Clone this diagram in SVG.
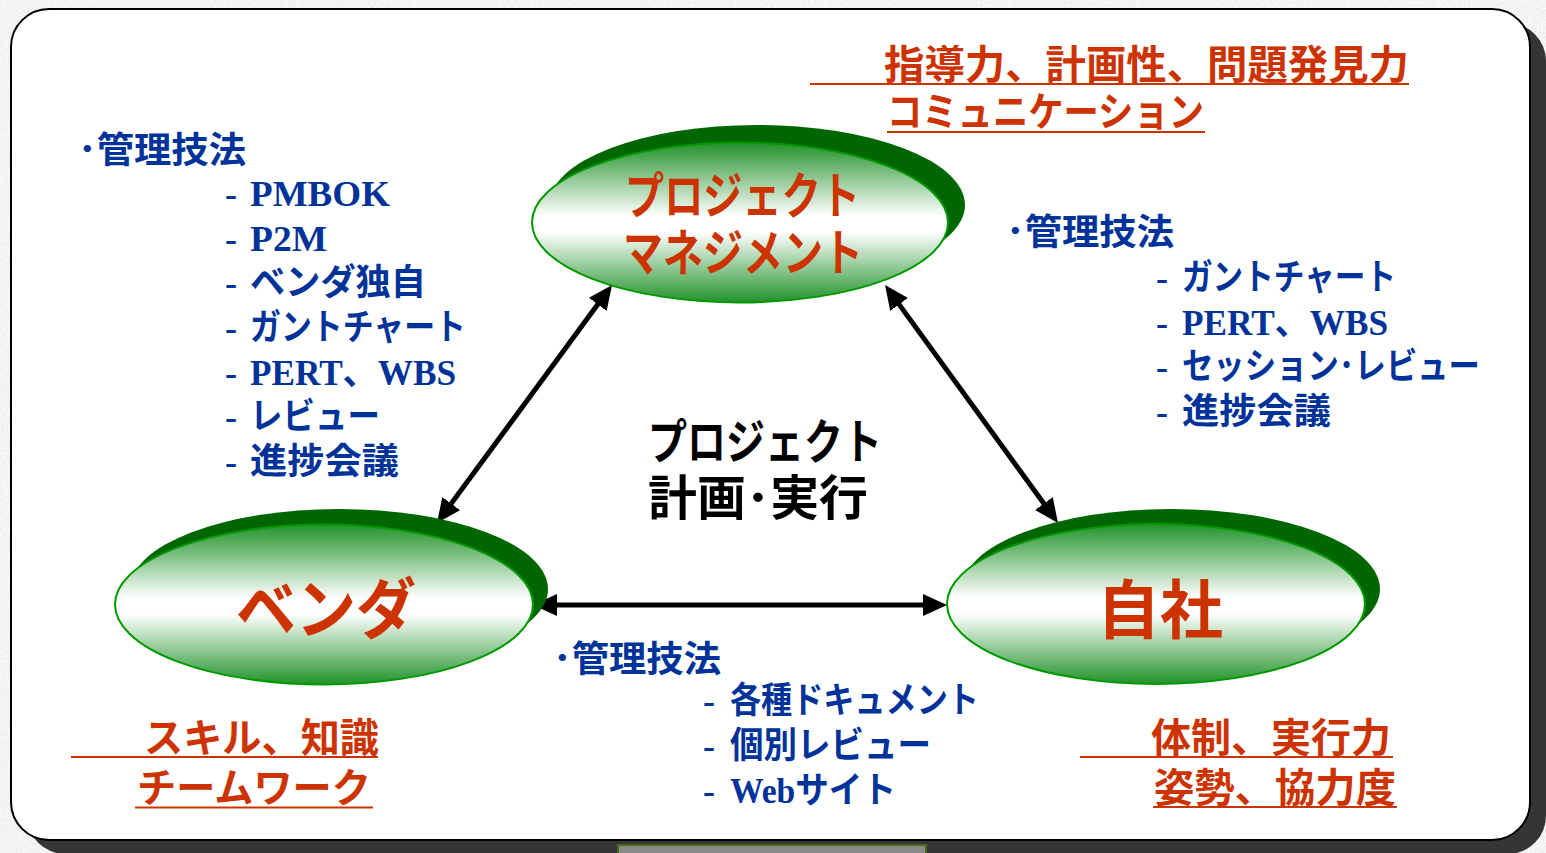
<svg xmlns="http://www.w3.org/2000/svg" width="1546" height="853" viewBox="0 0 1546 853">
<defs>
<filter id="noise" x="0" y="0" width="100%" height="100%">
<feTurbulence type="fractalNoise" baseFrequency="0.85" numOctaves="2" seed="4"/>
<feColorMatrix type="matrix" values="0.32 0 0 0 0.74  0.32 0 0 0 0.74  0.32 0 0 0 0.74  0 0 0 0 1"/>
</filter>
<linearGradient id="egrad" x1="0" y1="0" x2="0" y2="1">
<stop offset="0" stop-color="#23922a"/>
<stop offset="0.46" stop-color="#ffffff"/>
<stop offset="0.56" stop-color="#ffffff"/>
<stop offset="1" stop-color="#23922a"/>
</linearGradient>
<marker id="ah" viewBox="0 0 24 22" refX="14" refY="11" markerWidth="24" markerHeight="22" markerUnits="userSpaceOnUse" orient="auto-start-reverse">
<path d="M0,0 L24,11 L0,22 Z" fill="#000"/>
</marker>
<style>
.shadowE{fill:#006600;}
.mainE{fill:url(#egrad);stroke:#009900;stroke-width:2;}
.nodeT{font-family:"Liberation Sans","Noto Sans CJK JP","Noto Sans CJK SC",sans-serif;font-weight:bold;fill:#cc3300;}
.ctr{font-family:"Liberation Sans","Noto Sans CJK JP",sans-serif;font-weight:bold;fill:#000;font-size:48px;}
.blue{font-family:"Liberation Serif","Noto Sans CJK JP",serif;font-weight:bold;fill:#003399;font-size:36px;}
.bluej{font-family:"Liberation Sans","Noto Sans CJK JP",sans-serif;font-weight:bold;fill:#003399;font-size:36px;}
.red{font-family:"Liberation Sans","Noto Sans CJK JP",sans-serif;font-weight:bold;fill:#cc3300;font-size:40px;}
.ul{stroke:#cc3300;stroke-width:2.2;}
.arr{stroke:#000;stroke-width:5;fill:none;marker-start:url(#ah);marker-end:url(#ah);}
</style>
</defs>

<g id="background">
<rect x="0" y="0" width="1546" height="853" fill="#e6e6e6"/>
<rect x="0" y="0" width="1546" height="853" filter="url(#noise)"/>
<rect x="27" y="23" width="1519" height="831" rx="38" fill="#353535"/>
<rect x="11" y="9" width="1519" height="831" rx="38" fill="#ffffff" stroke="#000" stroke-width="2"/>
<rect x="618" y="845" width="308" height="10" fill="#8a8a8a" stroke="#4a6a1a" stroke-width="2"/>
</g>

<g id="connectors">
<line class="arr" x1="606.1" y1="293.1" x2="442.9" y2="514.9"/>
<line class="arr" x1="890.9" y1="293.1" x2="1052.1" y2="514.9"/>
<line class="arr" x1="543" y1="605" x2="937" y2="605"/>
</g>

<g id="node-pm">
<ellipse class="shadowE" cx="757" cy="205" rx="208" ry="80"/>
<ellipse class="mainE" cx="740" cy="222.5" rx="208" ry="80"/>
<text class="nodeT" x="625" y="214" font-size="50" textLength="235" lengthAdjust="spacingAndGlyphs">プロジェクト</text>
<text class="nodeT" x="623" y="271" font-size="50" textLength="240" lengthAdjust="spacingAndGlyphs">マネジメント</text>
</g>

<g id="node-vendor">
<ellipse class="shadowE" cx="339" cy="589" rx="209" ry="80"/>
<ellipse class="mainE" cx="324" cy="604.5" rx="209" ry="80"/>
<text class="nodeT" x="236" y="633" font-size="66" textLength="180" lengthAdjust="spacingAndGlyphs">ベンダ</text>
</g>

<g id="node-jisha">
<ellipse class="shadowE" cx="1171" cy="589" rx="209" ry="80"/>
<ellipse class="mainE" cx="1156" cy="604" rx="209" ry="80"/>
<text class="nodeT" x="1097" y="633" font-size="64" textLength="126" lengthAdjust="spacingAndGlyphs">自社</text>
</g>

<g id="center-label">
<text class="ctr" x="648" y="459" textLength="234" lengthAdjust="spacingAndGlyphs">プロジェクト</text>
<text class="ctr" x="648" y="515" textLength="220" lengthAdjust="spacingAndGlyphs">計画･実行</text>
</g>

<g id="methods-left">
<text class="bluej" x="78" y="163" textLength="168" lengthAdjust="spacingAndGlyphs">･管理技法</text>
<text class="blue" x="225" y="206">-</text><text class="blue" x="250" y="206" textLength="140" lengthAdjust="spacingAndGlyphs">PMBOK</text>
<text class="blue" x="225" y="251">-</text><text class="blue" x="250" y="251" textLength="77" lengthAdjust="spacingAndGlyphs">P2M</text>
<text class="blue" x="225" y="295">-</text><text class="bluej" x="250" y="295" textLength="176" lengthAdjust="spacingAndGlyphs">ベンダ独自</text>
<text class="blue" x="225" y="340">-</text><text class="bluej" x="250" y="340" textLength="216" lengthAdjust="spacingAndGlyphs">ガントチャート</text>
<text class="blue" x="225" y="385">-</text><text class="blue" x="250" y="385" textLength="206" lengthAdjust="spacingAndGlyphs">PERT、WBS</text>
<text class="blue" x="225" y="429">-</text><text class="bluej" x="250" y="429" textLength="130" lengthAdjust="spacingAndGlyphs">レビュー</text>
<text class="blue" x="225" y="474">-</text><text class="bluej" x="250" y="474" textLength="149" lengthAdjust="spacingAndGlyphs">進捗会議</text>
</g>

<g id="methods-right">
<text class="bluej" x="1006" y="245" textLength="168" lengthAdjust="spacingAndGlyphs">･管理技法</text>
<text class="blue" x="1156" y="290">-</text><text class="bluej" x="1182" y="290" textLength="214" lengthAdjust="spacingAndGlyphs">ガントチャート</text>
<text class="blue" x="1156" y="335">-</text><text class="blue" x="1182" y="335" textLength="206" lengthAdjust="spacingAndGlyphs">PERT、WBS</text>
<text class="blue" x="1156" y="379">-</text><text class="bluej" x="1182" y="379" textLength="298" lengthAdjust="spacingAndGlyphs">セッション･レビュー</text>
<text class="blue" x="1156" y="424">-</text><text class="bluej" x="1182" y="424" textLength="149" lengthAdjust="spacingAndGlyphs">進捗会議</text>
</g>

<g id="methods-bottom">
<text class="bluej" x="553" y="672" textLength="168" lengthAdjust="spacingAndGlyphs">･管理技法</text>
<text class="blue" x="703" y="713">-</text><text class="bluej" x="730" y="713" textLength="249" lengthAdjust="spacingAndGlyphs">各種ドキュメント</text>
<text class="blue" x="703" y="758">-</text><text class="bluej" x="730" y="758" textLength="201" lengthAdjust="spacingAndGlyphs">個別レビュー</text>
<text class="blue" x="703" y="803">-</text><text class="blue" x="730" y="803" textLength="166" lengthAdjust="spacingAndGlyphs">Webサイト</text>
</g>

<g id="skills-pm">
<text class="red" x="884" y="79" textLength="525" lengthAdjust="spacingAndGlyphs">指導力、計画性、問題発見力</text>
<line class="ul" x1="810" y1="84" x2="1409" y2="84"/>
<text class="red" x="887" y="126" textLength="317" lengthAdjust="spacingAndGlyphs">コミュニケーション</text>
<line class="ul" x1="887" y1="132" x2="1205" y2="132"/>
</g>

<g id="skills-vendor">
<text class="red" x="144" y="752" textLength="235" lengthAdjust="spacingAndGlyphs">スキル、知識</text>
<line class="ul" x1="71" y1="757" x2="378" y2="757"/>
<text class="red" x="137" y="802" textLength="234" lengthAdjust="spacingAndGlyphs">チームワーク</text>
<line class="ul" x1="135" y1="807.5" x2="373" y2="807.5"/>
</g>

<g id="skills-jisha">
<text class="red" x="1151" y="752" textLength="240" lengthAdjust="spacingAndGlyphs">体制、実行力</text>
<line class="ul" x1="1080" y1="757" x2="1393" y2="757"/>
<text class="red" x="1154" y="802" textLength="242" lengthAdjust="spacingAndGlyphs">姿勢、協力度</text>
<line class="ul" x1="1153" y1="807" x2="1397" y2="807"/>
</g>
</svg>
